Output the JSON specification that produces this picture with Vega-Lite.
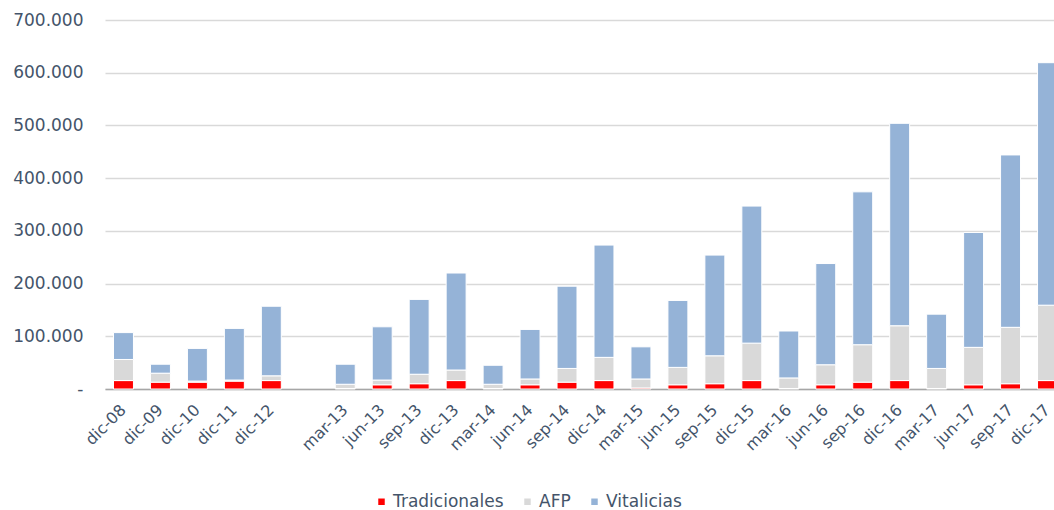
{
  "$schema": "https://vega.github.io/schema/vega-lite/v6.json",
  "autosize": "none",
  "width": 961,
  "height": 369,
  "padding": {"left": 105, "top": 20, "right": 0, "bottom": 121},
  "background": "white",
  "config": {"view": {"stroke": null}, "font": "DejaVu Sans"},
  "data": {
    "values": [
      {"mes": "dic-08", "Tradicionales": 16000, "AFP": 40000, "Vitalicias": 51000},
      {"mes": "dic-09", "Tradicionales": 13000, "AFP": 17000, "Vitalicias": 17000},
      {"mes": "dic-10", "Tradicionales": 13000, "AFP": 2000, "Vitalicias": 62000},
      {"mes": "dic-11", "Tradicionales": 15000, "AFP": 2000, "Vitalicias": 98000},
      {"mes": "dic-12", "Tradicionales": 16000, "AFP": 9000, "Vitalicias": 132000},
      {"mes": "mar-13", "Tradicionales": 1000, "AFP": 8000, "Vitalicias": 38000},
      {"mes": "jun-13", "Tradicionales": 8000, "AFP": 9000, "Vitalicias": 101000},
      {"mes": "sep-13", "Tradicionales": 10000, "AFP": 18000, "Vitalicias": 142000},
      {"mes": "dic-13", "Tradicionales": 16000, "AFP": 20000, "Vitalicias": 184000},
      {"mes": "mar-14", "Tradicionales": 1000, "AFP": 8000, "Vitalicias": 36000},
      {"mes": "jun-14", "Tradicionales": 8000, "AFP": 11000, "Vitalicias": 94000},
      {"mes": "sep-14", "Tradicionales": 13000, "AFP": 26000, "Vitalicias": 156000},
      {"mes": "dic-14", "Tradicionales": 16000, "AFP": 44000, "Vitalicias": 213000},
      {"mes": "mar-15", "Tradicionales": 2000, "AFP": 17000, "Vitalicias": 61000},
      {"mes": "jun-15", "Tradicionales": 8000, "AFP": 33000, "Vitalicias": 127000},
      {"mes": "sep-15", "Tradicionales": 10000, "AFP": 53000, "Vitalicias": 191000},
      {"mes": "dic-15", "Tradicionales": 16000, "AFP": 71000, "Vitalicias": 260000},
      {"mes": "mar-16", "Tradicionales": 1000, "AFP": 20000, "Vitalicias": 89000},
      {"mes": "jun-16", "Tradicionales": 8000, "AFP": 38000, "Vitalicias": 192000},
      {"mes": "sep-16", "Tradicionales": 13000, "AFP": 71000, "Vitalicias": 290000},
      {"mes": "dic-16", "Tradicionales": 16000, "AFP": 104000, "Vitalicias": 384000},
      {"mes": "mar-17", "Tradicionales": 1000, "AFP": 38000, "Vitalicias": 103000},
      {"mes": "jun-17", "Tradicionales": 8000, "AFP": 71000, "Vitalicias": 218000},
      {"mes": "sep-17", "Tradicionales": 10000, "AFP": 107000, "Vitalicias": 327000},
      {"mes": "dic-17", "Tradicionales": 16000, "AFP": 143000, "Vitalicias": 460000}
    ]
  },
  "transform": [
    {"fold": ["Tradicionales", "AFP", "Vitalicias"], "as": ["serie", "valor"]},
    {"calculate": "indexof(['Tradicionales', 'AFP', 'Vitalicias'], datum.serie)", "as": "orden"}
  ],
  "mark": {"type": "bar", "stroke": "white", "strokeWidth": 1},
  "encoding": {
    "x": {
      "field": "mes",
      "type": "nominal",
      "scale": {
        "domain": ["dic-08", "dic-09", "dic-10", "dic-11", "dic-12", " ", "mar-13", "jun-13", "sep-13", "dic-13", "mar-14", "jun-14", "sep-14", "dic-14", "mar-15", "jun-15", "sep-15", "dic-15", "mar-16", "jun-16", "sep-16", "dic-16", "mar-17", "jun-17", "sep-17", "dic-17"],
        "paddingInner": 0.46,
        "paddingOuter": 0.23
      },
      "axis": {
        "title": null,
        "labelAngle": -45,
        "labelAlign": "right",
        "labelBaseline": "middle",
        "labelFontSize": 16,
        "labelColor": "#44546A",
        "ticks": false,
        "tickSize": 0,
        "labelPadding": 18,
        "domainColor": "#A6A6A6",
        "domainWidth": 1.5,
        "grid": false
      }
    },
    "y": {
      "field": "valor",
      "type": "quantitative",
      "stack": "zero",
      "scale": {"domain": [0, 700000], "nice": false},
      "axis": {
        "title": null,
        "values": [0, 100000, 200000, 300000, 400000, 500000, 600000, 700000],
        "labelExpr": "datum.value == 0 ? '-' : replace(format(datum.value, ',.0f'), ',', '.')",
        "labelFontSize": 17,
        "labelColor": "#44546A",
        "ticks": false,
        "tickSize": 0,
        "labelPadding": 22,
        "domain": false,
        "gridColor": "#D9D9D9",
        "gridWidth": 1.5
      }
    },
    "order": {"field": "orden", "type": "quantitative", "sort": "ascending"},
    "color": {
      "field": "serie",
      "type": "nominal",
      "sort": ["Tradicionales", "AFP", "Vitalicias"],
      "scale": {"domain": ["Tradicionales", "AFP", "Vitalicias"], "range": ["#FF0000", "#D9D9D9", "#95B3D7"]},
      "legend": {
        "title": null,
        "orient": "none",
        "direction": "horizontal",
        "legendX": 268,
        "legendY": 473,
        "symbolType": "square",
        "symbolSize": 42,
        "symbolStrokeWidth": 0,
        "labelFontSize": 17,
        "labelColor": "#44546A",
        "labelOffset": 3,
        "columnPadding": 15
      }
    }
  }
}
